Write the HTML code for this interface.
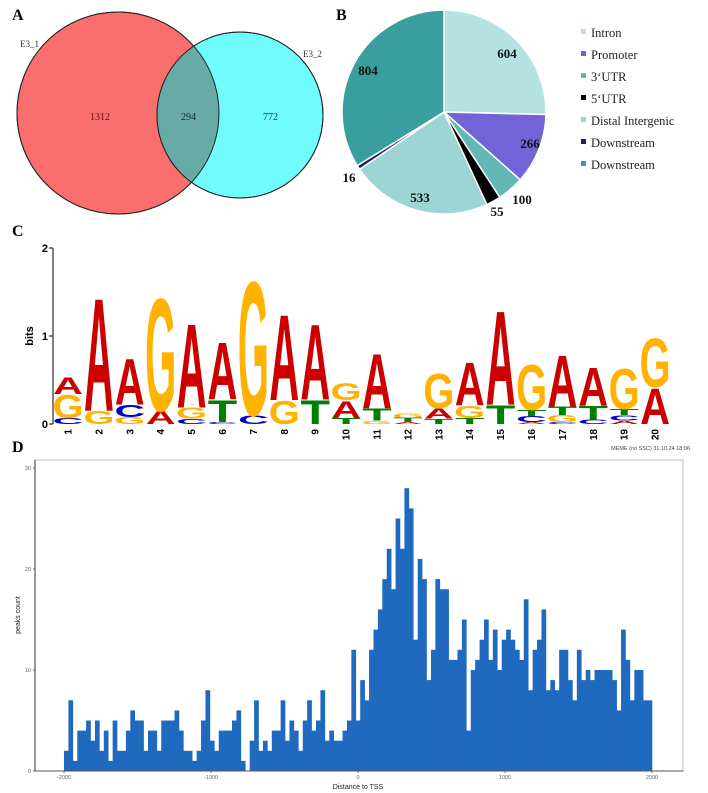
<!DOCTYPE html>
<html><head><meta charset="utf-8"><style>
html,body{margin:0;padding:0;background:#fff;width:708px;height:793px;overflow:hidden}
svg{display:block}
.serif{font-family:"Liberation Serif",serif}
.sans{font-family:"Liberation Sans",sans-serif}
</style></head><body>
<svg id="fig" width="708" height="793" viewBox="0 0 708 793" xmlns="http://www.w3.org/2000/svg">
  <g>
    <text x="12" y="20" class="serif" font-size="16" font-weight="bold">A</text>
    <circle cx="118" cy="113" r="101" fill="#FA6E6E" stroke="#222" stroke-width="1"/>
    <circle cx="240" cy="115" r="83" fill="#70FCFC" stroke="#222" stroke-width="1"/>
    <clipPath id="cA"><circle cx="118" cy="113" r="101"/></clipPath>
    <circle cx="240" cy="115" r="83" fill="#66ABA6" clip-path="url(#cA)"/>
    <circle cx="118" cy="113" r="101" fill="none" stroke="#222" stroke-width="1"/>
    <circle cx="240" cy="115" r="83" fill="none" stroke="#222" stroke-width="1"/>
    <text x="20" y="47" class="serif" font-size="9" fill="#333">E3_1</text>
    <text x="303" y="57" class="serif" font-size="9" fill="#333">E3_2</text>
    <text x="90" y="120" class="serif" font-size="10" fill="#5a1010">1312</text>
    <text x="181" y="120" class="serif" font-size="10" fill="#102a2a">294</text>
    <text x="263" y="120" class="serif" font-size="10" fill="#104040">772</text>
  </g>

  <g id="pie">
    <text x="336" y="20" class="serif" font-size="16" font-weight="bold">B</text>
  </g>
  <g id="legend"></g>

  <g id="logo">
    <text x="12" y="236" class="serif" font-size="16" font-weight="bold">C</text>
    <text x="12" y="452" class="serif" font-size="16" font-weight="bold">D</text>
    <text x="690" y="450" text-anchor="end" class="sans" font-size="5.5" fill="#444">MEME (no SSC) 31.10.24 18:06</text>
  </g>

  <g id="hist"></g>
</svg>
<script>
const NS="http://www.w3.org/2000/svg";
function mk(tag,attrs,parent,txt){const e=document.createElementNS(NS,tag);for(const k in attrs)e.setAttribute(k,attrs[k]);if(txt!==undefined)e.textContent=txt;parent.appendChild(e);return e;}

/* ---------- Pie data ---------- */
const pieCategories=["Intron","Promoter","3‘UTR","5‘UTR","Distal Intergenic","Downstream","Downstream"];
const pieValues=[604,266,100,55,533,16,804];
const pieColors=["#B4E2E2","#7264D6","#63B8B6","#000000","#9DD4D4","#1E1E6E","#3A9E9E"];
const pieLabelPos=[[507,58],[530,148],[522,204],[497,216],[420,202],[349,182],[368,75]];

const pie=document.getElementById('pie');
const cx=444,cy=112,R=102;
const tot=pieValues.reduce((a,b)=>a+b,0);
let ang=-Math.PI/2;
pieValues.forEach((v,i)=>{
  const a0=ang,a1=ang+v/tot*2*Math.PI;ang=a1;
  const large=(a1-a0)>Math.PI?1:0;
  const d=`M${cx},${cy} L${cx+R*Math.cos(a0)},${cy+R*Math.sin(a0)} A${R},${R} 0 ${large} 1 ${cx+R*Math.cos(a1)},${cy+R*Math.sin(a1)} Z`;
  const p=mk('path',{d:d,fill:pieColors[i],stroke:'#fff','stroke-width':1.5},pie);
  
  
  const t=mk('text',{x:pieLabelPos[i][0],y:pieLabelPos[i][1],'text-anchor':'middle',class:'serif','font-size':13,'font-weight':'bold',fill:'#111'},pie,String(v));
  
  
});
const leg=document.getElementById('legend');
pieCategories.forEach((c,i)=>{
  const y=33+i*22;
  const g=mk('g',{},leg);
  
  
  mk('rect',{x:581,y:y-4,width:5,height:5,fill:pieColors[i]},g);
  mk('text',{x:591,y:y+4,class:'serif','font-size':12.5,fill:'#222'},g,c);
});

/* ---------- Motif logo data ---------- */
const positions=["1","2","3","4","5","6","7","8","9","10","11","12","13","14","15","16","17","18","19","20"];
const stackLetters=[["C","G","A"],["G","A"],["G","C","A"],["A","G"],["C","G","A"],["C","T","A"],["C","G"],["G","A"],["T","A"],["T","A","G"],["G","T","A"],["A","T","G"],["T","A","G"],["T","G","A"],["T","A"],["A","C","T","G"],["C","G","T","A"],["C","T","A"],["A","C","T","G"],["A","G"]];
const stackBits=[[0.07,0.27,0.2],[0.15,1.32],[0.08,0.14,0.54],[0.15,1.32],[0.06,0.13,0.98],[0.02,0.26,0.67],[0.1,1.57],[0.27,1.0],[0.28,0.88],[0.07,0.2,0.2],[0.04,0.14,0.64],[0.02,0.05,0.05],[0.06,0.12,0.4],[0.07,0.14,0.5],[0.22,1.1],[0.02,0.07,0.07,0.53],[0.02,0.08,0.1,0.6],[0.05,0.16,0.45],[0.04,0.06,0.07,0.47],[0.42,0.57]];
const bitTicks=[0,1,2];
const letterColor={A:"#CC0000",C:"#0000CC",G:"#FFB300",T:"#008000"};
const glyphW={A:68,C:66,G:70,T:58};

const logo=document.getElementById('logo');
const ly=b=>424-b*88;
const lx=i=>68+i*30.9;
mk('line',{x1:53,y1:ly(0),x2:53,y2:ly(2),stroke:'#000','stroke-width':1},logo);
bitTicks.forEach(t=>{
  mk('line',{x1:49,y1:ly(t),x2:53,y2:ly(t),stroke:'#000'},logo);
  const tt=mk('text',{x:48,y:ly(t)+4,'text-anchor':'end',class:'sans','font-size':11,'font-weight':'bold'},logo,String(t));
  
  
});
const yl=mk('text',{x:0,y:0,transform:`translate(33,${ly(1)}) rotate(-90)`,'text-anchor':'middle',class:'sans','font-size':11,'font-weight':'bold'},logo,'bits');


positions.forEach((p,i)=>{
  let base=0;const w=28;
  stackLetters[i].forEach((L,j)=>{
    const h=stackBits[i][j];
    const yb=ly(base);base+=h;
    const px=h*88;
    const t=mk('text',{x:0,y:0,'text-anchor':'middle',class:'sans','font-size':100,'font-weight':'bold',fill:letterColor[L],transform:`translate(${lx(i)},${yb}) scale(${w/glyphW[L]},${px/72})`},logo,L);
    
    
  });
  const lab=mk('text',{x:0,y:0,transform:`translate(${lx(i)+3.5},${429}) rotate(-90)`,'text-anchor':'end',class:'sans','font-size':10,'font-weight':'bold'},logo,p);
  
  
});

/* ---------- Histogram data ---------- */
const histCounts=[2,7,1,4,4,5,3,5,2,4,1,5,2,2,4,6,5,5,2,4,4,2,5,5,5,6,4,2,2,1,2,5,8,3,2,4,4,4,5,6,1,0,3,7,2,3,2,4,4,7,3,5,4,2,5,7,4,5,8,3,4,3,3,4,5,12,
5,9,7,12,14,16,19,22,18,25,22,28,26,13,21,19,9,12,19,18,18,11,11,12,15,4,10,11,13,15,11,14,10,13,14,13,12,11,17,8,12,13,16,8,9,8,12,12,9,7,12,9,10,9,10,10,10,10,9,6,14,11,7,10,10,7,7];
const xTicks=[-2000,-1000,0,1000,2000];
const yTicks=[0,10,20,30];
const xMin=-2000,xMax=2000;

const hist=document.getElementById('hist');
const hx=v=>358+v*0.147;
const hy=c=>771-c*10.1;
mk('rect',{x:35,y:460,width:648,height:311,fill:'none',stroke:'#bbb','stroke-width':1},hist);
const bw=(xMax-xMin)/histCounts.length;
histCounts.forEach((c,i)=>{
  const x0=hx(xMin+i*bw),x1=hx(xMin+(i+1)*bw);
  const r=mk('rect',{x:x0,y:hy(c),width:x1-x0+0.3,height:hy(0)-hy(c),fill:'#1F6ABF'},hist);
  
  
});
mk('line',{x1:35,y1:460,x2:35,y2:771,stroke:'#555','stroke-width':1.2},hist);
mk('line',{x1:35,y1:771,x2:683,y2:771,stroke:'#555','stroke-width':1},hist);
yTicks.forEach(t=>{
  mk('line',{x1:33,y1:hy(t),x2:35,y2:hy(t),stroke:'#666'},hist);
  const tt=mk('text',{x:31,y:hy(t)+2,'text-anchor':'end',class:'sans','font-size':5.5,fill:'#666'},hist,String(t));
  
  
});
xTicks.forEach(t=>{
  mk('line',{x1:hx(t),y1:771,x2:hx(t),y2:773,stroke:'#666'},hist);
  const tt=mk('text',{x:hx(t),y:779,'text-anchor':'middle',class:'sans','font-size':5.5,fill:'#666'},hist,String(t));
  
  
});
const xt=mk('text',{x:358,y:789,'text-anchor':'middle',class:'sans','font-size':7,fill:'#222'},hist,'Distance to TSS');


const yt=mk('text',{x:0,y:0,transform:'translate(20,615) rotate(-90)','text-anchor':'middle',class:'sans','font-size':7,fill:'#222'},hist,'peaks count');


</script>
</body></html>
